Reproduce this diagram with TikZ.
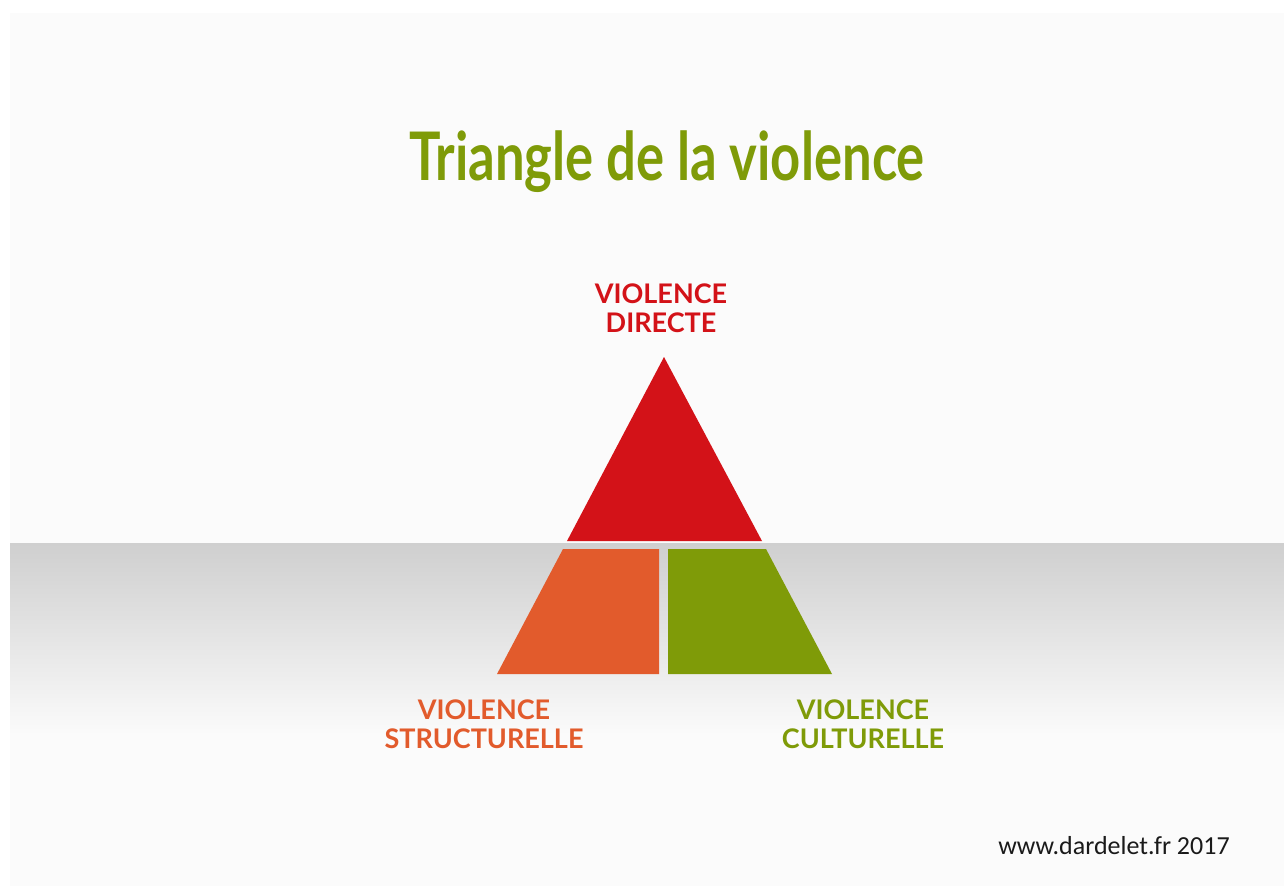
\documentclass[tikz,border=0pt]{standalone}
\usepackage{fontspec}
\newfontfamily\labelfont{Lato}
\newfontfamily\footfont{Carlito}
\definecolor{slidebg}{HTML}{FBFBFB}
\definecolor{bandtop}{HTML}{CFCFCF}
\definecolor{vred}{HTML}{D31218}
\definecolor{vorange}{HTML}{E25B2C}
\definecolor{vgreen}{HTML}{7F9B08}
\definecolor{foot}{HTML}{1A1A1A}
\tikzset{
  lbl/.style={align=center, inner sep=0pt, font=\labelfont\bfseries\fontsize{27}{29}\selectfont},
  piece/.style={draw=none},
}
\begin{document}
\begin{tikzpicture}[x=1pt,y=-1pt]
\useasboundingbox (0,0) rectangle (1284,886);
\fill[white] (0,0) rectangle (1284,886);
\fill[slidebg] (10,13) rectangle (1284,886);
% grey band
\shade[top color=bandtop, bottom color=slidebg] (10,543) rectangle (1284,735);
% title
\node[anchor=base, inner sep=0pt, text=vgreen, font=\labelfont\bfseries\fontsize{67}{70}\selectfont] (title) at (667,180) {\scalebox{0.785}[1]{Triangle de la violence}};
% pieces
\fill[vred, piece] (664,357) -- (762,541) -- (567,541) -- cycle;
\fill[vorange, piece] (563,549) -- (659,549) -- (659,674) -- (497,674) -- cycle;
\fill[vgreen, piece] (668,549) -- (766,549) -- (832,674) -- (668,674) -- cycle;
% labels
\node[lbl, text=vred, anchor=base] (direct) at (661,332) {VIOLENCE\\DIRECTE};
\node[lbl, text=vorange, anchor=base] (struct) at (484,748) {VIOLENCE\\STRUCTURELLE};
\node[lbl, text=vgreen, anchor=base] (cult) at (863,748) {VIOLENCE\\CULTURELLE};
% footer
\node[anchor=base, inner sep=0pt, text=foot, font=\footfont\fontsize{26}{28}\selectfont] (footer) at (1114,854) {www.dardelet.fr 2017};
\end{tikzpicture}
\end{document}
